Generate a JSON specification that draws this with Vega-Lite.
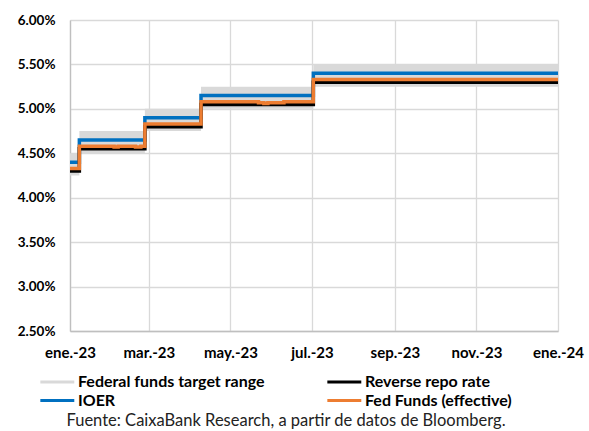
{
  "$schema": "https://vega.github.io/schema/vega-lite/v6.json",
  "width": 488,
  "height": 311,
  "autosize": {"type": "none"},
  "padding": {"left": 70, "top": 20, "right": 31, "bottom": 100},
  "background": "white",
  "title": {
    "text": "Fuente: CaixaBank Research, a partir de datos de Bloomberg.",
    "orient": "bottom",
    "anchor": "middle",
    "frame": "group",
    "font": "Lato",
    "fontSize": 16.5,
    "fontWeight": "normal",
    "color": "#222222",
    "offset": 4,
    "dx": -28
  },
  "config": {
    "view": {"stroke": null},
    "axis": {
      "labelFont": "Lato",
      "labelFontWeight": "bold",
      "labelColor": "#000000",
      "gridColor": "#d9d9d9",
      "gridWidth": 1.3,
      "domainColor": "#bfbfbf",
      "domainWidth": 1.3,
      "ticks": false,
      "title": null
    },
    "legend": {
      "labelFont": "Lato",
      "labelFontWeight": "bold",
      "labelFontSize": 16
    }
  },
  "datasets": {
    "band": [
      {"start": "2023-01-26", "end": "2023-02-02", "lo": 4.25, "hi": 4.5},
      {"start": "2023-02-02", "end": "2023-03-23", "lo": 4.5, "hi": 4.75},
      {"start": "2023-03-23", "end": "2023-05-04", "lo": 4.75, "hi": 5.0},
      {"start": "2023-05-04", "end": "2023-07-27", "lo": 5.0, "hi": 5.25},
      {"start": "2023-07-27", "end": "2024-01-26", "lo": 5.25, "hi": 5.5}
    ],
    "rates": [
      {"date": "2023-01-26", "series": "IOER", "value": 4.40},
      {"date": "2023-02-02", "series": "IOER", "value": 4.65},
      {"date": "2023-03-23", "series": "IOER", "value": 4.90},
      {"date": "2023-05-04", "series": "IOER", "value": 5.15},
      {"date": "2023-07-27", "series": "IOER", "value": 5.40},
      {"date": "2024-01-26", "series": "IOER", "value": 5.40},
      {"date": "2023-01-26", "series": "Reverse repo rate", "value": 4.30},
      {"date": "2023-02-02", "series": "Reverse repo rate", "value": 4.55},
      {"date": "2023-03-23", "series": "Reverse repo rate", "value": 4.80},
      {"date": "2023-05-04", "series": "Reverse repo rate", "value": 5.05},
      {"date": "2023-07-27", "series": "Reverse repo rate", "value": 5.30},
      {"date": "2024-01-26", "series": "Reverse repo rate", "value": 5.30},
      {"date": "2023-01-26", "series": "Fed Funds (effective)", "value": 4.33},
      {"date": "2023-02-02", "series": "Fed Funds (effective)", "value": 4.58},
      {"date": "2023-02-28", "series": "Fed Funds (effective)", "value": 4.57},
      {"date": "2023-03-03", "series": "Fed Funds (effective)", "value": 4.58},
      {"date": "2023-03-16", "series": "Fed Funds (effective)", "value": 4.57},
      {"date": "2023-03-20", "series": "Fed Funds (effective)", "value": 4.58},
      {"date": "2023-03-23", "series": "Fed Funds (effective)", "value": 4.83},
      {"date": "2023-05-04", "series": "Fed Funds (effective)", "value": 5.08},
      {"date": "2023-06-16", "series": "Fed Funds (effective)", "value": 5.07},
      {"date": "2023-06-20", "series": "Fed Funds (effective)", "value": 5.06},
      {"date": "2023-06-23", "series": "Fed Funds (effective)", "value": 5.07},
      {"date": "2023-07-05", "series": "Fed Funds (effective)", "value": 5.08},
      {"date": "2023-07-27", "series": "Fed Funds (effective)", "value": 5.33},
      {"date": "2024-01-26", "series": "Fed Funds (effective)", "value": 5.33}
    ]
  },
  "encoding": {
    "x": {
      "type": "temporal",
      "scale": {
        "type": "utc",
        "domain": [
          {"year": 2023, "month": 1, "date": 26, "utc": true},
          {"year": 2024, "month": 1, "date": 26, "utc": true}
        ]
      },
      "axis": {
        "values": [
          {"year": 2023, "month": 1, "date": 26, "utc": true},
          {"year": 2023, "month": 3, "date": 26, "utc": true},
          {"year": 2023, "month": 5, "date": 26, "utc": true},
          {"year": 2023, "month": 7, "date": 26, "utc": true},
          {"year": 2023, "month": 9, "date": 26, "utc": true},
          {"year": 2023, "month": 11, "date": 26, "utc": true},
          {"year": 2024, "month": 1, "date": 26, "utc": true}
        ],
        "labelExpr": "['ene.','feb.','mar.','abr.','may.','jun.','jul.','ago.','sep.','oct.','nov.','dic.'][utcmonth(datum.value)] + '-' + utcFormat(datum.value, '%y')",
        "labelFontSize": 15,
        "labelPadding": 14,
        "labelFlush": false,
        "labelOverlap": false
      }
    },
    "y": {
      "type": "quantitative",
      "scale": {"domain": [2.5, 6], "nice": false, "zero": false},
      "axis": {
        "values": [2.5, 3, 3.5, 4, 4.5, 5, 5.5, 6],
        "labelExpr": "format(datum.value, '.2f') + '%'",
        "labelFontSize": 13.5,
        "labelPadding": 15
      }
    }
  },
  "layer": [
    {
      "data": {"name": "band"},
      "mark": {"type": "rect", "opacity": 1},
      "encoding": {
        "x": {"field": "start", "type": "temporal"},
        "x2": {"field": "end"},
        "y": {"field": "lo", "type": "quantitative"},
        "y2": {"field": "hi"},
        "color": {
          "datum": "Federal funds target range",
          "type": "nominal",
          "title": null,
          "scale": {
            "domain": ["Federal funds target range", "Reverse repo rate", "IOER", "Fed Funds (effective)"],
            "range": ["#d9d9d9", "#000000", "#0070c0", "#ed7d31"]
          },
          "legend": {
            "title": null,
            "orient": "none",
            "legendX": -32,
            "legendY": 354,
            "direction": "horizontal",
            "columns": 2,
            "columnPadding": 56,
            "rowPadding": 2.5,
            "symbolType": "M-1,0H5",
            "symbolSize": 128,
            "symbolStrokeWidth": 3,
            "labelFont": "Lato",
            "labelFontSize": 16,
            "labelFontWeight": "bold",
            "labelColor": "#000000",
            "labelOffset": 24,
            "labelLimit": 400,
            "encode": {
              "symbols": {
                "update": {
                  "strokeWidth": {"signal": "datum.value === 'Federal funds target range' ? 8 : 3"},
                  "stroke": {"scale": "color", "field": "value"},
                  "fill": {"value": "transparent"},
                  "strokeCap": {"value": "butt"},
                  "opacity": {"value": 1}
                }
              },
              "labels": {
                "update": {
                  "fontWeight": {"value": "bold"}
                }
              }
            }
          }
        }
      }
    },
    {
      "data": {"name": "rates"},
      "transform": [{"filter": "datum.series === 'IOER'"}],
      "mark": {"type": "line", "interpolate": "step-after", "strokeWidth": 3.5},
      "encoding": {
        "x": {"field": "date", "type": "temporal"},
        "y": {"field": "value", "type": "quantitative"},
        "color": {"field": "series", "type": "nominal", "title": null}
      }
    },
    {
      "data": {"name": "rates"},
      "transform": [{"filter": "datum.series === 'Reverse repo rate'"}],
      "mark": {"type": "line", "interpolate": "step-after", "strokeWidth": 3.5},
      "encoding": {
        "x": {"field": "date", "type": "temporal"},
        "y": {"field": "value", "type": "quantitative"},
        "color": {"field": "series", "type": "nominal", "title": null}
      }
    },
    {
      "data": {"name": "rates"},
      "transform": [{"filter": "datum.series === 'Fed Funds (effective)'"}],
      "mark": {"type": "line", "interpolate": "step-after", "strokeWidth": 3.5},
      "encoding": {
        "x": {"field": "date", "type": "temporal"},
        "y": {"field": "value", "type": "quantitative"},
        "color": {"field": "series", "type": "nominal", "title": null}
      }
    }
  ]
}
